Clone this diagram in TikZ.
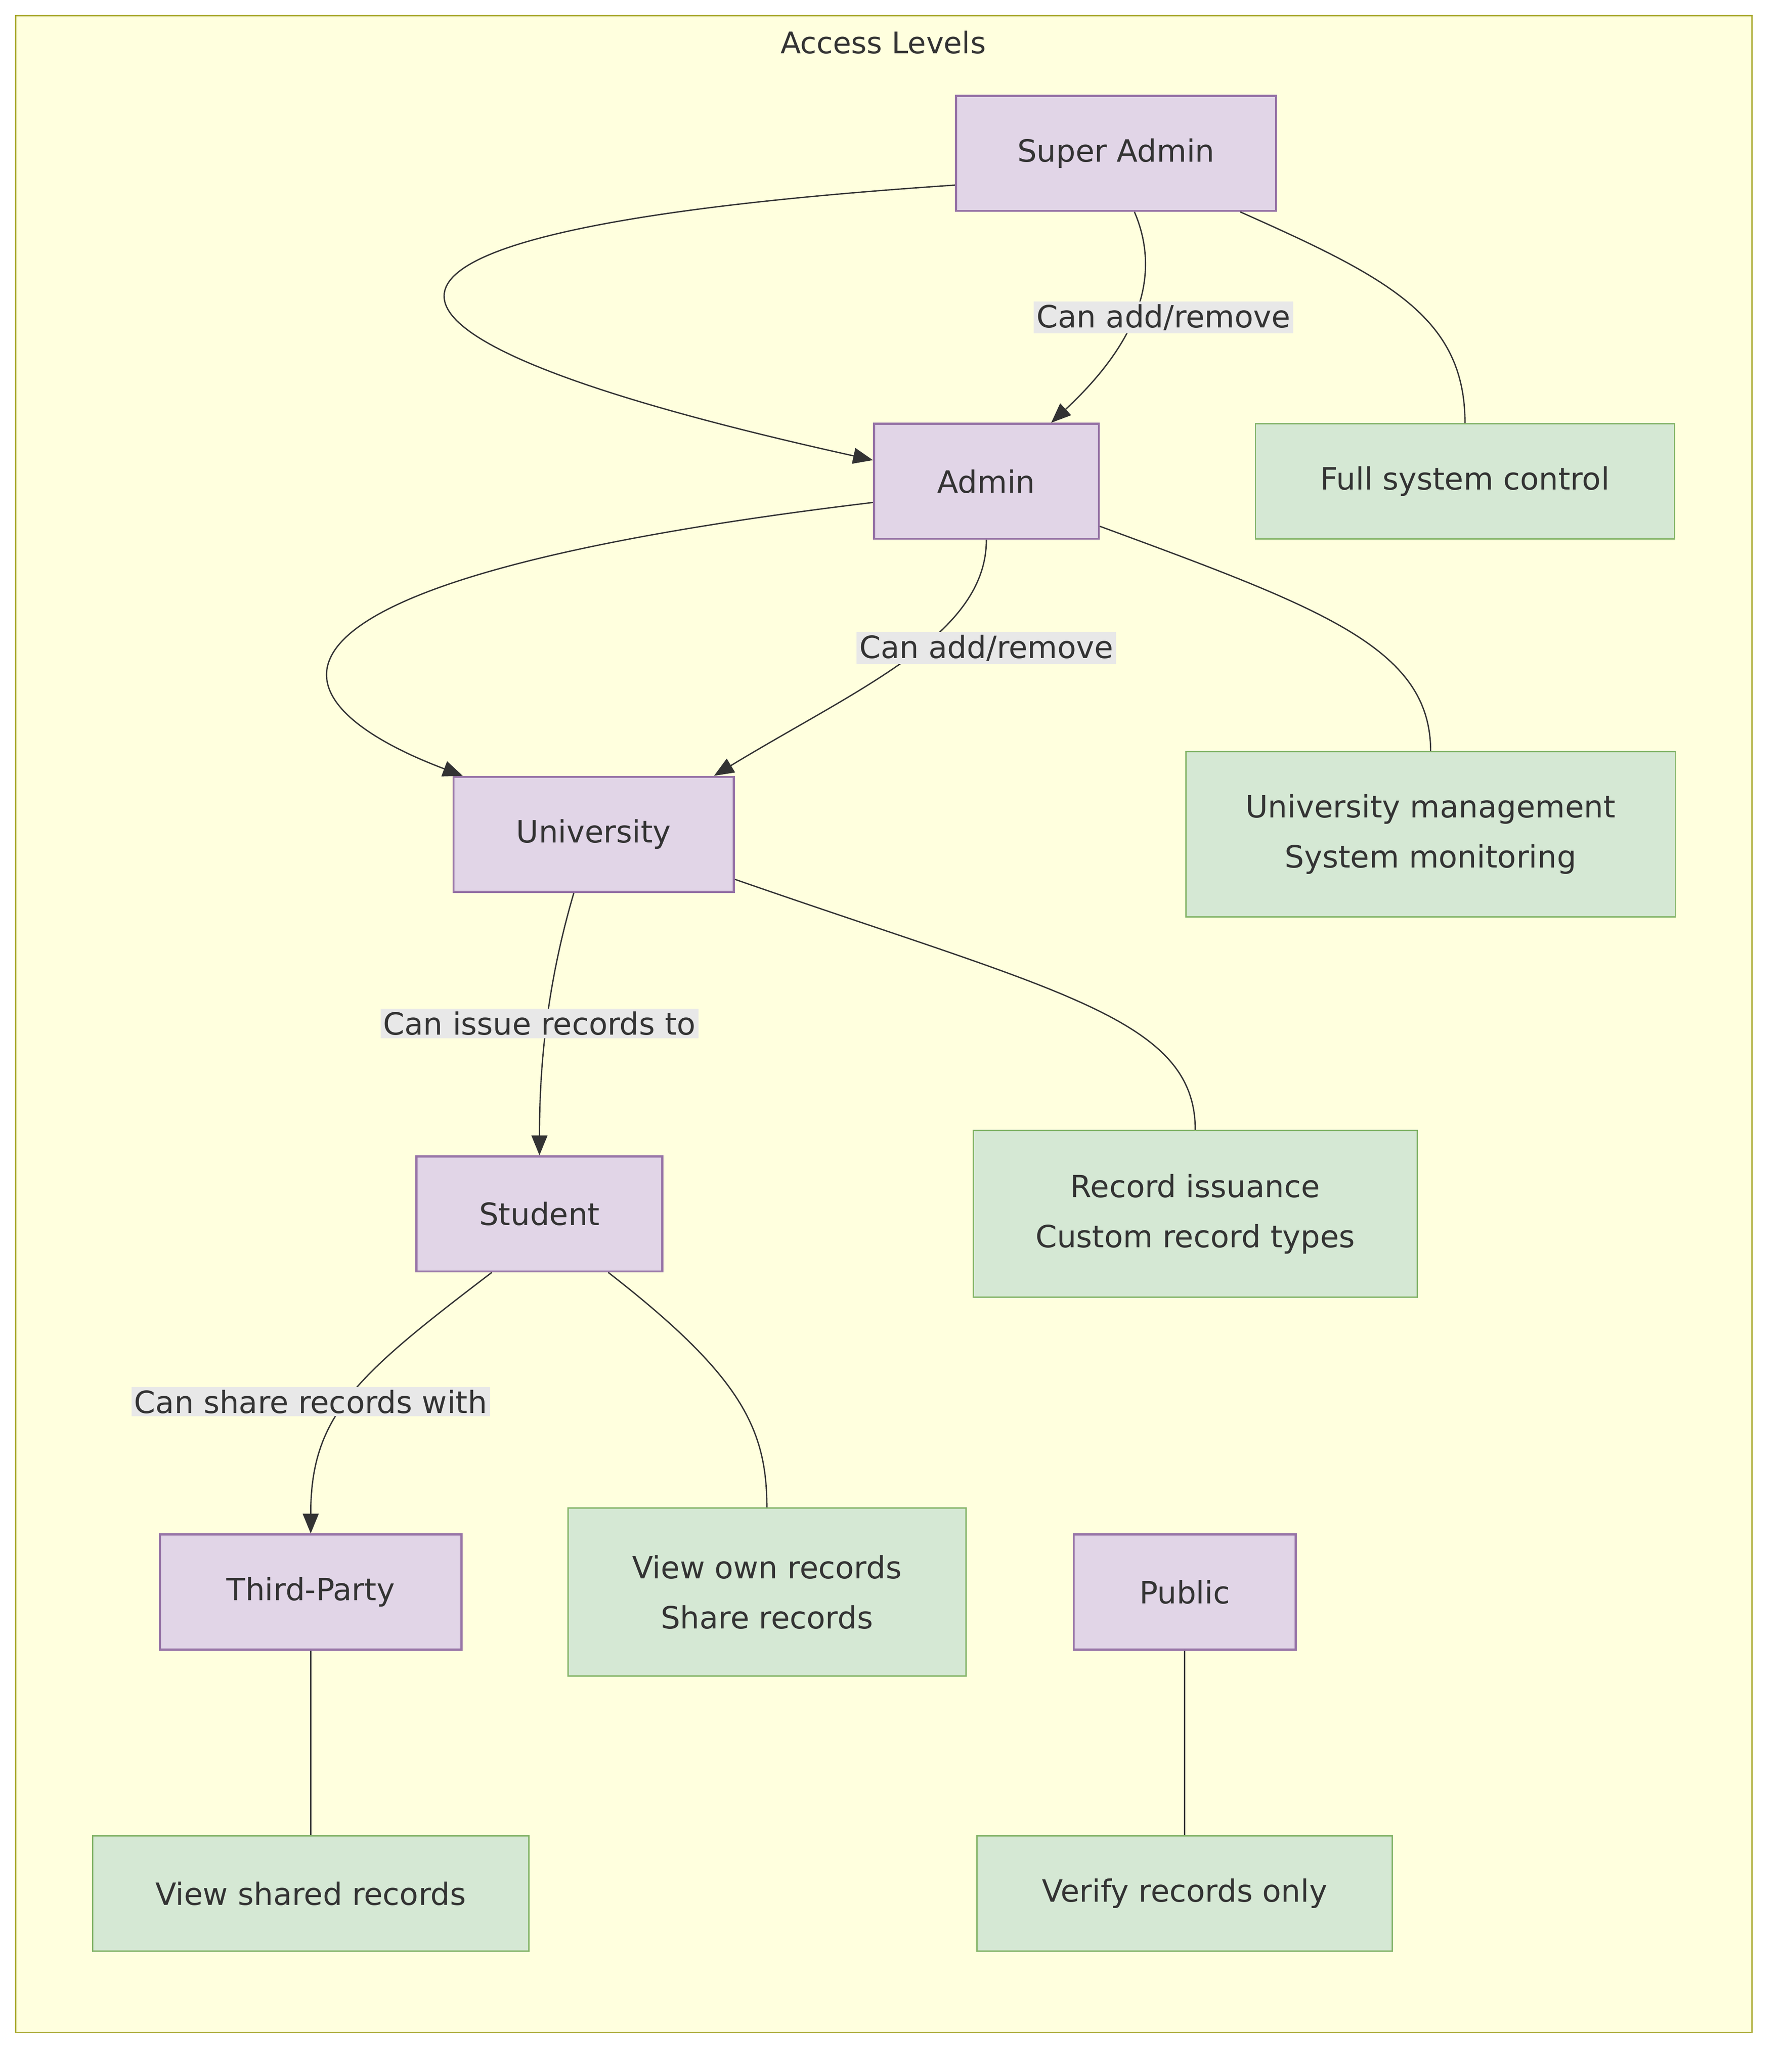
\documentclass[tikz,border=0pt]{standalone}
\usepackage{fontspec}
\setmainfont{DejaVu Sans}
\usetikzlibrary{arrows.meta}
\definecolor{roleFill}{HTML}{E1D5E7}
\definecolor{roleLine}{HTML}{9673A6}
\definecolor{permFill}{HTML}{D5E8D4}
\definecolor{permLine}{HTML}{82B366}
\definecolor{groupFill}{HTML}{FFFFDE}
\definecolor{groupLine}{HTML}{AAAA33}
\definecolor{lblFill}{HTML}{E8E8E8}
\definecolor{edgeCol}{HTML}{333333}
\tikzset{
  role/.style={draw=roleLine, fill=roleFill, line width=2.2pt, minimum height=4.35cm, inner sep=0pt, font=\fontsize{33}{40}\selectfont, text=edgeCol},
  perm/.style={draw=permLine, fill=permFill, line width=1.4pt, inner sep=0pt, align=center, font=\fontsize{33}{54}\selectfont, text=edgeCol},
  link/.style={draw=edgeCol, line width=1.4pt},
  flow/.style={link, -{Triangle[length=0.75cm,width=0.6cm]}},
  lbl/.style={fill=lblFill, inner sep=3pt, font=\fontsize{33}{40}\selectfont, text=edgeCol}
}
\begin{document}
\begin{tikzpicture}[x=0.05cm, y=-0.05cm]
	\useasboundingbox (0,0) rectangle (1350,1567);
	\fill[white] (0,0) rectangle (1350,1567);
	\draw[groupLine, fill=groupFill, line width=1.4pt] (12,12) rectangle (1325,1537);
	\node[font=\fontsize{32}{38}\selectfont, text=edgeCol] (title) at (668,32) {Access Levels};
	% roles
	\node[role, minimum width=12.1cm] (super) at (844,116) {Super Admin};
	\node[role, minimum width=8.5cm] (admin) at (746,364) {Admin};
	\node[role, minimum width=10.6cm] (uni) at (449,631) {University};
	\node[role, minimum width=9.3cm] (student) at (408,918) {Student};
	\node[role, minimum width=11.4cm] (third) at (235,1204) {Third-Party};
	\node[role, minimum width=8.4cm] (public) at (896,1204) {Public};
	% permissions
	\node[perm, minimum width=15.85cm, minimum height=4.35cm] (pSuper) at (1108,364) {Full system control};
	\node[perm, minimum width=18.5cm, minimum height=6.25cm] (pAdmin) at (1082,631) {University management\\System monitoring};
	\node[perm, minimum width=16.8cm, minimum height=6.3cm] (pUni) at (904,918) {Record issuance\\Custom record types};
	\node[perm, minimum width=15.05cm, minimum height=6.35cm] (pStudent) at (580,1204) {View own records\\Share records};
	\node[perm, minimum width=16.5cm, minimum height=4.35cm] (pThird) at (235,1432) {View shared records};
	\node[perm, minimum width=15.7cm, minimum height=4.35cm] (pPublic) at (896,1432) {Verify records only};
	% arrows
	\coordinate (c1) at (super.west |- 0,140);
	\draw[flow] (c1) .. controls (200,175) and (240,255) .. (admin.west |- 0,348);
	\draw[flow] (super.south -| 858,0) .. controls (875,200) and (870,250) .. (admin.north -| 795,0);
	\node[lbl] (l1) at (880,240) {Can add/remove};
	\draw[link] (super.south -| 938,0) .. controls (1050,210) and (1108,240) .. (pSuper.north);
	\draw[flow] (admin.west |- 0,380) .. controls (160,440) and (200,530) .. (uni.north -| 350,0);
	\draw[flow] (admin.south) .. controls (746,480) and (650,520) .. (uni.north -| 540,0);
	\node[lbl] (l2) at (746,490) {Can add/remove};
	\draw[link] (admin.east |- 0,398) .. controls (1000,460) and (1082,490) .. (pAdmin.north);
	\draw[flow] (uni.south -| 434,0) .. controls (415,740) and (408,800) .. (student.north);
	\node[lbl] (l3) at (408,774) {Can issue records to};
	\draw[link] (uni.east |- 0,665) .. controls (800,750) and (904,770) .. (pUni.north);
	\draw[flow] (student.south -| 372,0) .. controls (270,1040) and (235,1070) .. (third.north);
	\node[lbl] (l4) at (235,1060) {Can share records with};
	\draw[link] (student.south -| 460,0) .. controls (560,1040) and (580,1080) .. (pStudent.north);
	\draw[link] (third) -- (pThird);
	\draw[link] (public) -- (pPublic);
\end{tikzpicture}
\end{document}
